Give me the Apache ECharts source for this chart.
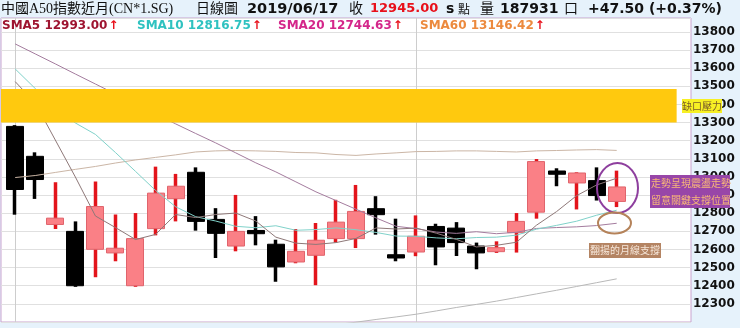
<!DOCTYPE html>
<html><head><meta charset="utf-8">
<script src="https://cdn.jsdelivr.net/npm/echarts@6/dist/echarts.min.js"></script>
<style>html,body{margin:0;padding:0;background:#e6f2fb}#c{width:740px;height:328px}</style>
</head><body><div id="c"></div>
<script>
// ---- data ----
const dates = ['2019/05/03','2019/05/06','2019/05/07','2019/05/08','2019/05/09','2019/05/10','2019/05/13','2019/05/14','2019/05/15','2019/05/16','2019/05/17','2019/05/20','2019/05/21','2019/05/22','2019/05/23','2019/05/24','2019/05/27','2019/05/28','2019/05/29','2019/05/30','2019/05/31','2019/06/03','2019/06/04','2019/06/06','2019/06/07','2019/06/10','2019/06/11','2019/06/12','2019/06/13','2019/06/14','2019/06/17'];
const open  = [13279,13114,12738,12700,12601,12581,12400,12715,12880,13026,12766,12619,12705,12629,12531,12568,12660,12660,12825,12571,12586,12727,12718,12619,12588,12693,12806,13033,12967,12980,12865];
const close = [12931,12986,12773,12400,12837,12607,12660,12911,12949,12755,12689,12700,12687,12504,12590,12651,12751,12810,12792,12553,12673,12614,12638,12581,12610,12755,13085,13015,13022,12897.5,12945];
const low   = [12792,12879,12713,12394,12447,12535,12394,12678,12755,12704,12553,12590,12623,12422,12524,12403,12638,12608,12682,12535,12563,12513,12564,12491,12581,12583,12770,12949,12821,12870,12834];
const high  = [13286,13136,12971,12755,12975,12793,12801,13057,13017,13053,12828,12901,12784,12654,12713,12746,12874,12956,12894,12770,12788,12742,12751,12638,12645,12801,13099,13048,13026,13053,13035];
const sma5  = [13526,13408,13204,13000,12785,12721,12655,12683,12793,12776,12793,12801,12757,12668,12635,12628,12638,12661,12719,12713,12718,12690,12656,12614,12623,12640,12734,12809,12897,12956,12993.00];
const sma10 = [13596,13488,13384,13298,13235,13135,13031,12926,12836,12781,12757,12728,12720,12731,12706,12710,12719,12709,12694,12674,12673,12664,12659,12666,12668,12679,12712,12733,12756,12789,12816.75];
const sma20 = [13734,13679,13624,13568,13513,13458,13403,13348,13293,13240,13188,13133,13078,13028,12973,12918,12870,12822,12774,12728,12715,12696,12689,12698,12687,12695,12716,12721,12725,12732,12744.63];
const sma60 = [12997,13008,13025,13042,13058,13077,13094,13108,13122,13138,13144,13146,13144,13141,13135,13133,13124,13119,13127,13133,13140,13141,13144,13144,13141,13138,13144,13146,13149,13151,13146.42];
const smaLong = [null,null,null,null,null,null,null,null,null,null,null,null,null,null,null,12171,12185,12199,12214,12228,12243,12261,12280,12297,12315,12335,12355,12375,12396,12417,12438];
const gapZone = [13300, 13485];
const dividerIdx = [0, 20];
const volume = '187931';
const titleText = '中國A50指數近月(CN*1.SG)';
const annoTrend = ['走勢呈現震盪走勢', '留意關鍵支撐位置'];
const annoGap = '缺口壓力';
const annoSupport = '翻揚的月線支撐';

// ---- build ----
const N = close.length;
const ohlc = close.map((c, i) => [i, open[i], c, low[i], high[i]]);
const bodies = close.map((c, i) => [i, open[i], c, Math.min(open[i], c), Math.max(open[i], c)]);
const pts = arr => arr.map((v, i) => [i, v]);
const last = close[N - 1], prev = close[N - 2];
const chg = last - prev;
const chgText = (chg >= 0 ? '+' : '') + chg.toFixed(2) + ' (' + (chg >= 0 ? '+' : '') + (chg / prev * 100).toFixed(2) + '%)';

const B = 'bold 14px "DejaVu Sans", Verdana, sans-serif';
const CJK = '14px "Liberation Serif", "Noto Sans CJK TC", serif';
const hy = 9;
function T(text, x, y, font, fill, extra) {
  return Object.assign({ type: 'text', z: 100, style: { text, x, y, font, fill, verticalAlign: 'middle', align: 'left' } }, extra || {});
}
function legendItem(label, val, x, color) {
  return { type: 'text', z: 100, style: { x, y: 26, verticalAlign: 'middle', text: '{a|' + label + ' ' + val.toFixed(2) + '}{r|↑}',
    rich: { a: { fill: color, font: 'bold 12px "DejaVu Sans", Verdana, sans-serif' }, r: { fill: '#e8101a', font: 'bold 12px "DejaVu Sans", sans-serif', padding: [0,0,0,1] } } } };
}

const chart = echarts.init(document.getElementById('c'));
chart.setOption({
  animation: false,
  backgroundColor: '#e6f2fb',
  grid: { left: 1, right: 49, top: 18, bottom: 6, show: true, backgroundColor: '#ffffff', borderColor: '#c9a3cf', borderWidth: 1 },
  xAxis: { type: 'value', min: -0.708, max: 33.706, show: false },
  yAxis: { type: 'value', position: 'right', min: 12200, max: 13877, interval: 100,
    axisLine: { show: false }, axisTick: { show: false },
    splitLine: { lineStyle: { color: '#e0e0e0', width: 1 } },
    axisLabel: { margin: 2, color: '#111', fontWeight: 'bold', fontSize: 12, fontFamily: '"DejaVu Sans", Verdana, sans-serif',
      showMinLabel: false, showMaxLabel: false, formatter: v => String(v) } },
  series: [
    { type: 'candlestick', name: 'wick', data: ohlc, barWidth: 1,
      itemStyle: { color: '#e3141b', color0: '#000', borderColor: '#e3141b', borderColor0: '#000', borderWidth: 3.5 },
      markLine: { silent: true, z: 1, symbol: ['none', 'none'], label: { show: false },
        lineStyle: { color: '#cdcdcd', width: 1, type: 'solid' }, data: dividerIdx.map(v => ({ xAxis: v })) } },
    { type: 'candlestick', name: 'body', data: bodies, barWidth: 17.5,
      itemStyle: { color: '#fa8086', color0: '#000', borderColor: '#e0646c', borderColor0: '#000', borderWidth: 1 } },
    { type: 'line', name: 'SMA60', data: pts(sma60), symbol: 'none', lineStyle: { color: '#cbb6a6', width: 1 } },
    { type: 'line', name: 'SMA20', data: pts(sma20), symbol: 'none', lineStyle: { color: '#a47c9e', width: 1 } },
    { type: 'line', name: 'SMA10', data: pts(sma10), symbol: 'none', lineStyle: { color: '#80d2ca', width: 1 } },
    { type: 'line', name: 'SMA5', data: pts(sma5), symbol: 'none', lineStyle: { color: '#8e7878', width: 1 } },
    { type: 'line', name: 'long', data: pts(smaLong), symbol: 'none', lineStyle: { color: '#b8b8b8', width: 1 },
      markArea: { z: 10, silent: true, itemStyle: { color: '#ffc90e' }, label: { show: false },
        data: [[{ xAxis: -0.708, yAxis: gapZone[0] }, { xAxis: 32.99, yAxis: gapZone[1] }]] } }
  ],
  graphic: [
    T(titleText, 1, hy, CJK, '#111'),
    T('日線圖', 196, hy, CJK, '#111'),
    T(dates[N - 1], 247, hy, 'bold 14.5px "DejaVu Sans", Verdana, sans-serif', '#111'),
    T('收', 349, hy, CJK, '#111'),
    T(last.toFixed(2), 370, hy, 'bold 13px "DejaVu Sans", Verdana, sans-serif', '#e8101a'),
    T('s', 446, hy, B, '#111'),
    T('點', 458, hy, '12px "Noto Sans CJK TC", serif', '#111'),
    T('量', 480, hy, CJK, '#111'),
    T(volume, 500, hy, B, '#111'),
    T('口', 564, hy, CJK, '#111'),
    T(chgText, 588, hy, B, '#111'),
    legendItem('SMA5', sma5[N - 1], 2, '#9e1430'),
    legendItem('SMA10', sma10[N - 1], 137, '#2fc2c0'),
    legendItem('SMA20', sma20[N - 1], 278, '#d4268a'),
    legendItem('SMA60', sma60[N - 1], 420, '#ec8a3e'),
    { type: 'ellipse', z: 100, shape: { cx: 617.5, cy: 188, rx: 20.5, ry: 25 }, style: { fill: 'none', stroke: '#8e3f9e', lineWidth: 2 } },
    { type: 'ellipse', z: 100, shape: { cx: 614.5, cy: 223, rx: 16.5, ry: 10.5 }, style: { fill: 'none', stroke: '#b5835a', lineWidth: 2 } },
    { type: 'rect', z: 100, shape: { x: 650, y: 175, width: 80, height: 33 }, style: { fill: '#9846a8' } },
    T(annoTrend[0], 651, 183, '10px "Noto Sans CJK TC", sans-serif', '#f8b878'),
    T(annoTrend[1], 651, 200, '10px "Noto Sans CJK TC", sans-serif', '#f8b878'),
    { type: 'rect', z: 100, shape: { x: 682, y: 99, width: 40, height: 14 }, style: { fill: '#f7f024' } },
    T(annoGap, 682, 106, '10px "Noto Sans CJK TC", sans-serif', '#7a5c2a'),
    { type: 'rect', z: 100, shape: { x: 589, y: 243, width: 72, height: 15 }, style: { fill: '#b48463' } },
    T(annoSupport, 590, 250.5, '10px "Noto Sans CJK TC", sans-serif', '#f6e7da')
  ]
});
</script></body></html>
